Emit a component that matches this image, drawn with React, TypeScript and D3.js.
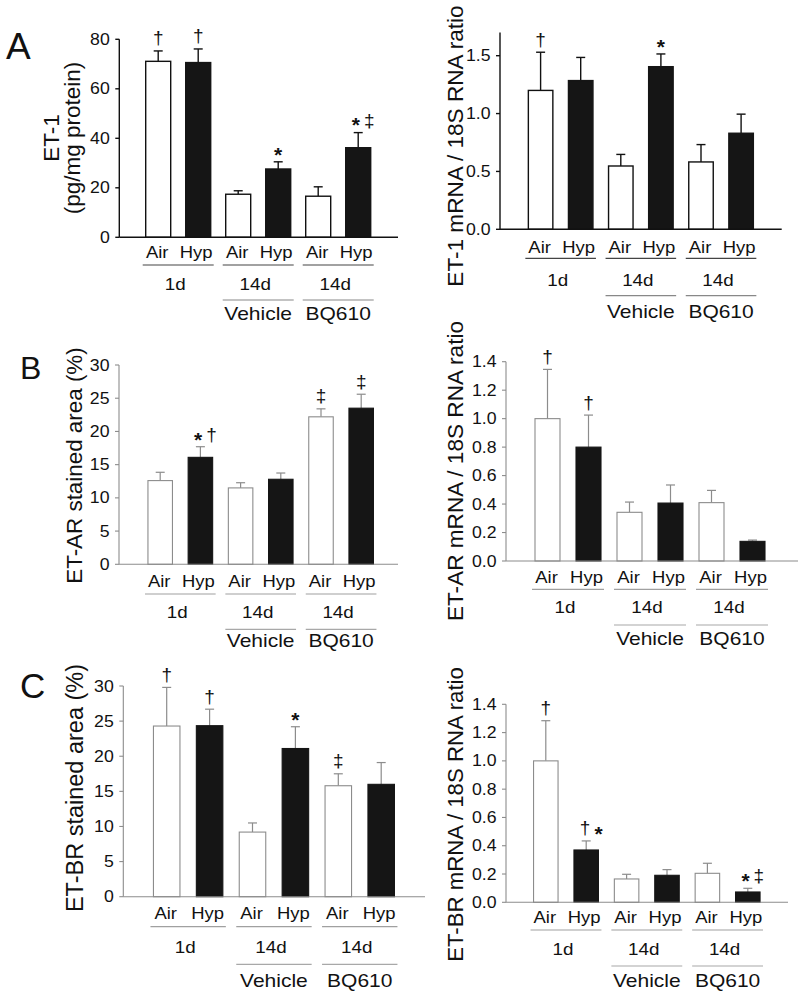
import React from "react";
import * as d3 from "d3";

// ---------- data ----------
const conditions = ["Air", "Hyp", "Air", "Hyp", "Air", "Hyp"];
const periods = ["1d", "14d", "14d"];
const treatments = ["", "Vehicle", "BQ610"];

const et1Protein = [71.1, 70.6, 17.4, 27.6, 16.6, 36.2];
const et1ProteinErr = [4.2, 5.5, 1.4, 2.9, 3.8, 6.1];
const et1ProteinMarks = ["†", "†", "", "*", "", "*‡"];
const et1ProteinTicks = [0, 20, 40, 60, 80];

const et1Mrna = [1.2, 1.285, 0.547, 1.405, 0.582, 0.83];
const et1MrnaErr = [0.33, 0.2, 0.1, 0.11, 0.15, 0.165];
const et1MrnaMarks = ["†", "", "", "*", "", ""];
const et1MrnaTicks = [0, 0.5, 1.0, 1.5];

const etarArea = [12.6, 16.1, 11.5, 12.8, 22.2, 23.5];
const etarAreaErr = [1.25, 1.6, 0.78, 0.94, 1.2, 2.1];
const etarAreaMarks = ["", "*†", "", "", "‡", "‡"];
const areaTicks = [0, 5, 10, 15, 20, 25, 30];

const etarMrna = [1.0, 0.8, 0.342, 0.407, 0.41, 0.138];
const etarMrnaErr = [0.346, 0.225, 0.072, 0.127, 0.086, 0.009];
const etarMrnaMarks = ["†", "†", "", "", "", ""];
const ratioTicks = [0, 0.2, 0.4, 0.6, 0.8, 1.0, 1.2, 1.4];

const etbrArea = [24.3, 24.35, 9.2, 21.1, 15.8, 16.0];
const etbrAreaErr = [5.5, 2.35, 1.3, 3.1, 1.7, 3.1];
const etbrAreaMarks = ["†", "†", "", "*", "‡", ""];

const etbrMrna = [1.0, 0.37, 0.165, 0.191, 0.205, 0.073];
const etbrMrnaErr = [0.284, 0.064, 0.033, 0.04, 0.071, 0.026];
const etbrMrnaMarks = ["†", "†*", "", "", "", "*‡"];

// ---------- layout ----------
const FONT = "'Liberation Sans', Arial, Helvetica, sans-serif";

type Layout = {
  x0: number; xEnd: number; c0: number; s: number; bw: number;
  y0: number; top: number; yTop: number;
  airY: number; line1Y: number; dayY: number; line2Y: number; treatY: number;
  labelX: number[]; labelCY: number; labelSize: number;
  letter?: string; letterX?: number; letterY?: number; letterSize?: number;
  dark: boolean;
};

const panels: {
  values: number[]; errors: number[]; marks: string[]; ticks: number[];
  fmt: (d: number) => string; yLabel: string[]; L: Layout;
}[] = [
  {
    values: et1Protein, errors: et1ProteinErr, marks: et1ProteinMarks, ticks: et1ProteinTicks,
    fmt: d3.format("d"), yLabel: ["ET-1", "(pg/mg protein)"],
    L: { x0: 119.3, xEnd: 398, c0: 158.2, s: 40, bw: 25, y0: 237.3, top: 80, yTop: 39.3,
      airY: 258, line1Y: 265, dayY: 290, line2Y: 300, treatY: 320,
      labelX: [59.3, 80.3], labelCY: 138, labelSize: 22.5,
      letter: "A", letterX: 6, letterY: 59, letterSize: 37, dark: true },
  },
  {
    values: et1Mrna, errors: et1MrnaErr, marks: et1MrnaMarks, ticks: et1MrnaTicks,
    fmt: d3.format(".1f"), yLabel: ["ET-1 mRNA / 18S RNA ratio"],
    L: { x0: 500, xEnd: 781.7, c0: 540.6, s: 40.1, bw: 24.5, y0: 229.3, top: 1.7, yTop: 32.55,
      airY: 253.3, line1Y: 258.3, dayY: 286, line2Y: 295.7, treatY: 318,
      labelX: [463], labelCY: 146, labelSize: 22.6, dark: true },
  },
  {
    values: etarArea, errors: etarAreaErr, marks: etarAreaMarks, ticks: areaTicks,
    fmt: d3.format("d"), yLabel: ["ET-AR stained area (%)"],
    L: { x0: 119, xEnd: 398, c0: 160.2, s: 40.2, bw: 24.5, y0: 564.3, top: 30, yTop: 365,
      airY: 586.7, line1Y: 594, dayY: 617.7, line2Y: 629.3, treatY: 647,
      labelX: [82], labelCY: 465.5, labelSize: 22.4,
      letter: "B", letterX: 20, letterY: 379, letterSize: 32, dark: false },
  },
  {
    values: etarMrna, errors: etarMrnaErr, marks: etarMrnaMarks, ticks: ratioTicks,
    fmt: d3.format(".1f"), yLabel: ["ET-AR mRNA / 18S RNA ratio"],
    L: { x0: 506, xEnd: 798, c0: 547.5, s: 41, bw: 25, y0: 561, top: 1.4, yTop: 361.7,
      airY: 583.3, line1Y: 589.3, dayY: 613.3, line2Y: 625, treatY: 645,
      labelX: [463], labelCY: 471, labelSize: 22.6, dark: false },
  },
  {
    values: etbrArea, errors: etbrAreaErr, marks: etbrAreaMarks, ticks: areaTicks,
    fmt: d3.format("d"), yLabel: ["ET-BR stained area (%)"],
    L: { x0: 123.3, xEnd: 425, c0: 166.7, s: 42.9, bw: 26.5, y0: 896.7, top: 30, yTop: 686,
      airY: 919.3, line1Y: 926.7, dayY: 953.3, line2Y: 964.3, treatY: 986.7,
      labelX: [82.5], labelCY: 788, labelSize: 23.5,
      letter: "C", letterX: 20, letterY: 698, letterSize: 35, dark: false },
  },
  {
    values: etbrMrna, errors: etbrMrnaErr, marks: etbrMrnaMarks, ticks: ratioTicks,
    fmt: d3.format(".1f"), yLabel: ["ET-BR mRNA / 18S RNA ratio"],
    L: { x0: 506, xEnd: 788, c0: 545.8, s: 40.4, bw: 24.5, y0: 902.3, top: 1.4, yTop: 704.3,
      airY: 923.3, line1Y: 930, dayY: 955, line2Y: 966, treatY: 986.7,
      labelX: [463], labelCY: 814.5, labelSize: 22.2, dark: false },
  },
];

function Mark({ text, x, y }: { text: string; x: number; y: number }) {
  let cur = 0;
  const chars = Array.from(text);
  return (
    <text x={x + (chars.length > 1 ? 5 : 0)} y={y} textAnchor="middle" fontSize={19} fill="#111">
      {chars.map((ch, i) => {
        const target = ch === "*" ? 0.3 : 0;
        const dy = target - cur;
        cur = target;
        return (
          <tspan
            key={i}
            dy={`${dy}em`}
            dx={i > 0 ? 4 : 0}
            fontSize={ch === "*" ? 21 : 19}
            fontWeight={ch === "*" ? "bold" : "normal"}
          >
            {ch}
          </tspan>
        );
      })}
    </text>
  );
}

// horizontal text in the source figure is slightly wider than it is tall
function WideText({ x, y, size, children, anchor = "middle", sx = 1.15 }: any) {
  return (
    <text
      transform={`translate(${x},${y}) scale(${sx},1)`}
      textAnchor={anchor}
      fontSize={size}
      fill="#111"
    >
      {children}
    </text>
  );
}

function Panel({ p }: { p: (typeof panels)[number] }) {
  const L = p.L;
  const pi = 1 - L.bw / L.s;
  const x = d3
    .scaleBand<number>()
    .domain(d3.range(conditions.length))
    .range([L.c0 - L.s / 2, L.c0 + (conditions.length - 0.5) * L.s])
    .paddingInner(pi)
    .paddingOuter(pi / 2);
  const y = d3.scaleLinear().domain([0, L.top]).range([L.y0, L.yTop]);
  const bw = x.bandwidth();
  const axisColor = L.dark ? "#111" : "#8c8c8c";
  const axisW = L.dark ? 1.4 : 1.1;
  const outline = L.dark ? "#111" : "#8c8c8c";
  const errColor = L.dark ? "#111" : "#8c8c8c";
  const line1Color = L.dark ? "#444" : "#a0a0a0";
  const line2Color = L.dark ? "#888" : "#a8a8a8";
  const cx = (i: number) => (x(i) as number) + bw / 2;

  return (
    <g fontFamily={FONT}>
      {L.letter && (
        <text x={L.letterX} y={L.letterY} fontSize={L.letterSize} fill="#111">
          {L.letter}
        </text>
      )}
      {/* y label */}
      {p.yLabel.map((t, i) => (
        <text
          key={t}
          transform={`translate(${L.labelX[i]},${L.labelCY}) rotate(-90)`}
          textAnchor="middle"
          fontSize={L.labelSize}
          fill="#111"
        >
          {t}
        </text>
      ))}
      {/* ticks */}
      {p.ticks.map((t) => (
        <g key={t}>
          <line x1={L.x0 - 4} x2={L.x0} y1={y(t)} y2={y(t)} stroke={axisColor} strokeWidth={axisW} />
          <WideText x={L.x0 - 9.5} y={y(t) + 5.6} size={15.8} anchor="end" sx={1.12}>
            {p.fmt(t)}
          </WideText>
        </g>
      ))}
      {/* bars */}
      {p.values.map((v, i) => {
        const hyp = conditions[i] === "Hyp";
        const top = y(v + p.errors[i]);
        return (
          <g key={i}>
            <line x1={cx(i)} x2={cx(i)} y1={y(v)} y2={top} stroke={errColor} strokeWidth={L.dark ? 1.4 : 1.2} />
            <line x1={cx(i) - 4.5} x2={cx(i) + 4.5} y1={top} y2={top} stroke={errColor} strokeWidth={L.dark ? 1.4 : 1.2} />
            <rect
              x={x(i)}
              y={y(v)}
              width={bw}
              height={L.y0 - y(v)}
              fill={hyp ? "#151515" : "#fff"}
              stroke={hyp ? "#151515" : outline}
              strokeWidth={L.dark ? 1.4 : 1.1}
            />
            {p.marks[i] && <Mark text={p.marks[i]} x={cx(i)} y={top - 6.5} />}
          </g>
        );
      })}
      {/* axes */}
      <line x1={L.x0} x2={L.x0} y1={L.yTop} y2={L.y0} stroke={axisColor} strokeWidth={axisW} />
      <line x1={L.x0} x2={L.xEnd} y1={L.y0} y2={L.y0} stroke={axisColor} strokeWidth={axisW} />
      {/* category labels */}
      {conditions.map((c, i) => (
        <WideText key={i} x={cx(i) + (c === "Hyp" ? -2 : -1)} y={L.airY} size={16.5} sx={1.12}>
          {c}
        </WideText>
      ))}
      {periods.map((d, g) => {
        const left = (x(2 * g) as number) - 3;
        const right = (x(2 * g + 1) as number) + bw + 3;
        const mid = (left + right) / 2;
        return (
          <g key={g}>
            <line x1={left} x2={right} y1={L.line1Y} y2={L.line1Y} stroke={line1Color} strokeWidth={1.2} />
            <WideText x={mid - 3} y={L.dayY} size={16.8} sx={1.12}>
              {d}
            </WideText>
            {treatments[g] && (
              <>
                <line x1={left} x2={right} y1={L.line2Y} y2={L.line2Y} stroke={line2Color} strokeWidth={1.2} />
                <WideText x={mid} y={L.treatY} size={17.5} sx={1.2}>
                  {treatments[g]}
                </WideText>
              </>
            )}
          </g>
        );
      })}
    </g>
  );
}

export default function App() {
  return (
    <svg
      width={800}
      height={999}
      viewBox="0 0 800 999"
      style={{ position: "absolute", left: 0, top: 0, background: "#fff" }}
    >
      <rect width={800} height={999} fill="#fff" />
      {panels.map((p, i) => (
        <Panel key={i} p={p} />
      ))}
    </svg>
  );
}
